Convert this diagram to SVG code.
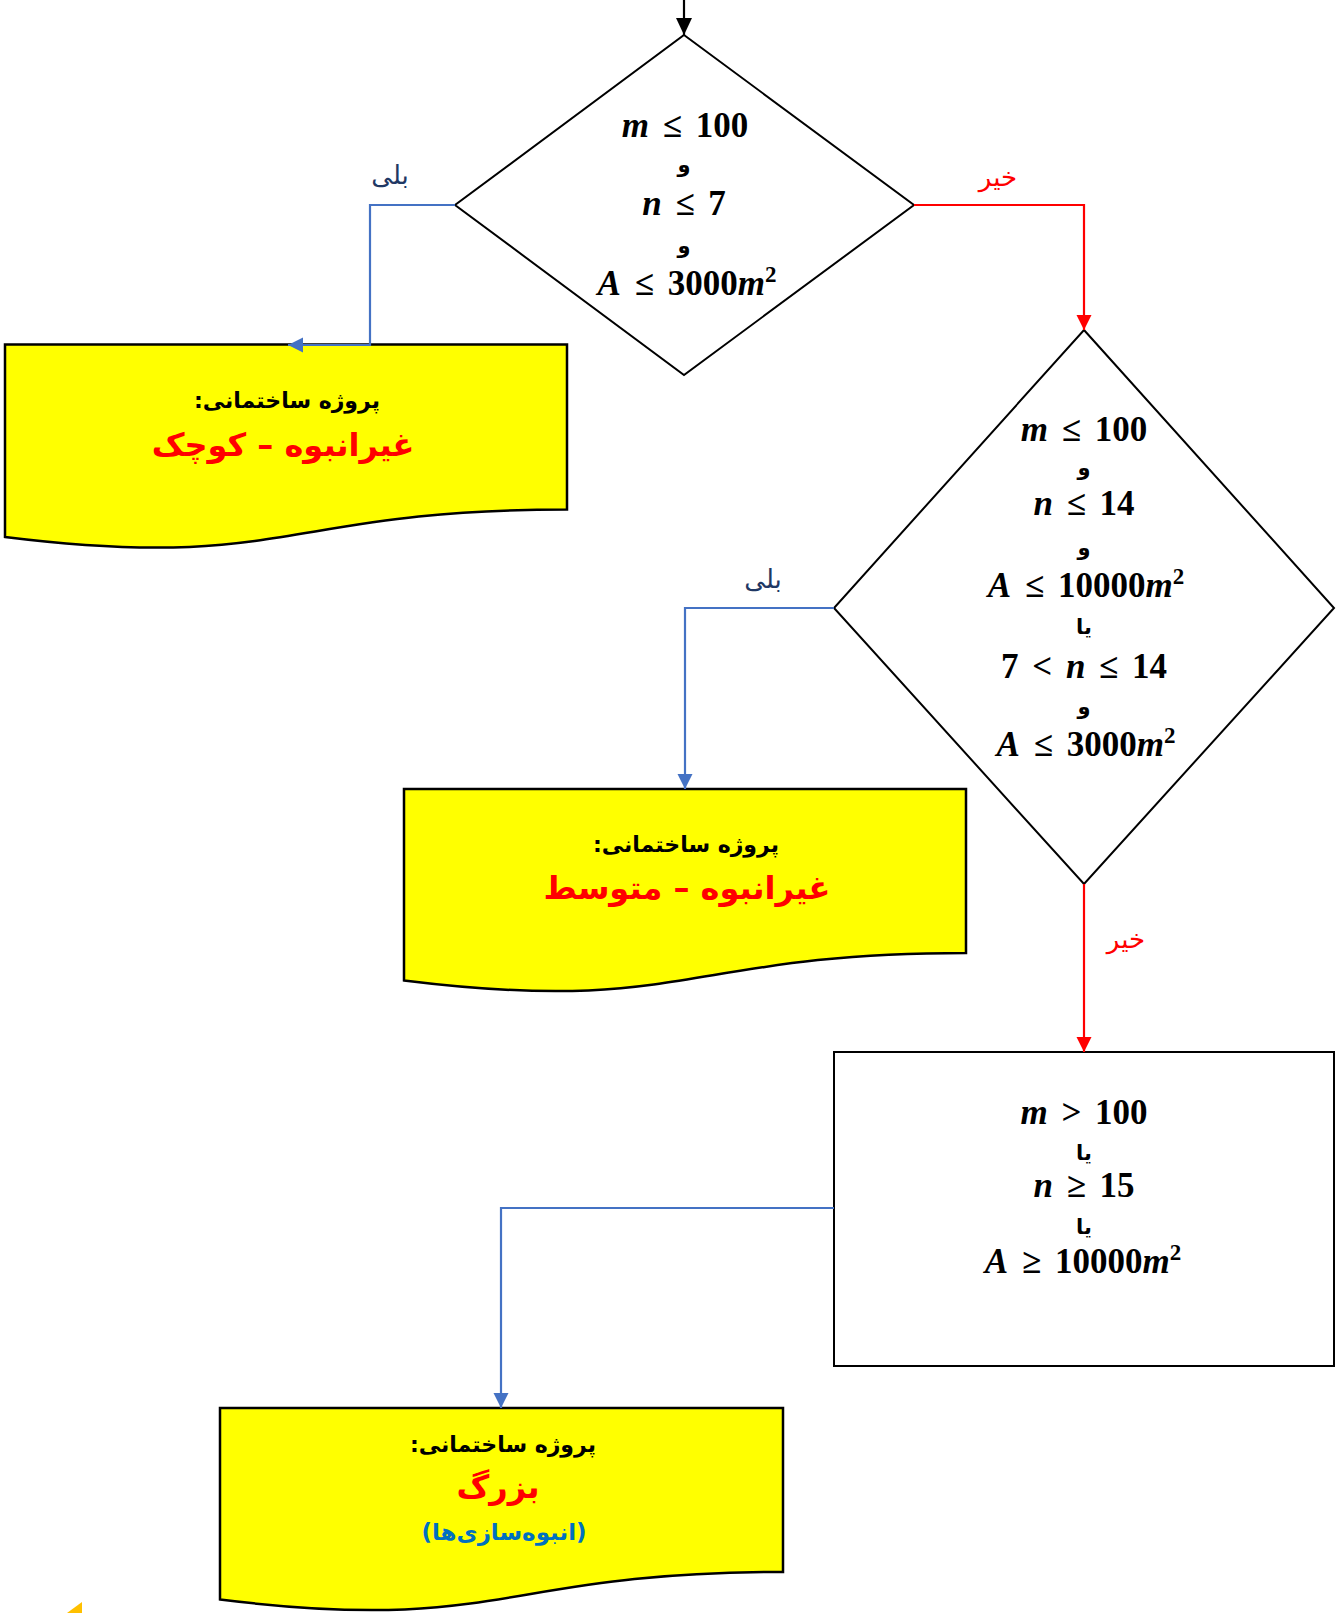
<svg xmlns="http://www.w3.org/2000/svg" width="1340" height="1613" viewBox="0 0 1340 1613">
<style>
.shape{fill:#fff;stroke:#000;stroke-width:2}
.doc{fill:#ffff00;stroke:#000;stroke-width:2.5}
.math{font-family:"Liberation Serif","Times New Roman",serif;font-weight:bold;font-size:35px;fill:#000;text-anchor:middle;word-spacing:5px}
.mi{font-style:italic}
.sup{font-size:23px}
.conj{font-family:"DejaVu Sans",sans-serif;font-weight:bold;font-size:21px;fill:#000;text-anchor:middle;direction:rtl}
.fa{font-family:"DejaVu Sans",sans-serif;text-anchor:middle;direction:rtl}
.title{font-weight:bold;font-size:22px;fill:#000}
.red{font-weight:bold;font-size:32px;fill:#ff0000}
.blueT{font-weight:bold;font-size:23px;fill:#0070c0}
.yes{font-size:26px;fill:#1f3864}
.no{font-size:26px;fill:#ff0000}
.cb{fill:none;stroke:#4472c4;stroke-width:2.2}
.cr{fill:none;stroke:#ff0000;stroke-width:2.2}
.ck{fill:none;stroke:#000;stroke-width:2.2}
</style>
<defs>
<marker id="ab" markerUnits="userSpaceOnUse" markerWidth="16" markerHeight="16" refX="15" refY="7.5" orient="auto"><path d="M0,0 L15,7.5 L0,15 z" fill="#4472c4"/></marker>
<marker id="ar" markerUnits="userSpaceOnUse" markerWidth="16" markerHeight="16" refX="15" refY="7.5" orient="auto"><path d="M0,0 L15,7.5 L0,15 z" fill="#ff0000"/></marker>
<marker id="ak" markerUnits="userSpaceOnUse" markerWidth="18" markerHeight="18" refX="17" refY="8" orient="auto"><path d="M0,0 L17,8 L0,16 z" fill="#000"/></marker>
</defs>

<g id="decision1">
<polygon class="shape" points="684,35 914,205 684,375 455,205"/>
<text class="math" x="685" y="137"><tspan class="mi">m</tspan> ≤ 100</text>
<text class="conj" x="684" y="172">و</text>
<text class="math" x="684" y="215"><tspan class="mi">n</tspan> ≤ 7</text>
<text class="conj" x="684" y="253">و</text>
<text class="math" x="687" y="295"><tspan class="mi">A</tspan> ≤ 3000<tspan class="mi">m</tspan><tspan class="sup" dy="-13">2</tspan></text>
</g>

<g id="doc-small">
<path class="doc" d="M5,344.5 H567 V509.5 C286,509.5 286,572 5,537 Z"/>
<text class="fa title" x="287" y="408">پروژه ساختمانی:</text>
<text class="fa red" x="283" y="456">غیرانبوه – کوچک</text>
</g>

<g id="decision2">
<polygon class="shape" points="1084,330 1334,608 1084,884 834,608"/>
<text class="math" x="1084" y="441"><tspan class="mi">m</tspan> ≤ 100</text>
<text class="conj" x="1084" y="475">و</text>
<text class="math" x="1084" y="515"><tspan class="mi">n</tspan> ≤ 14</text>
<text class="conj" x="1084" y="555">و</text>
<text class="math" x="1086" y="597"><tspan class="mi">A</tspan> ≤ 10000<tspan class="mi">m</tspan><tspan class="sup" dy="-13">2</tspan></text>
<text class="conj" x="1084" y="634">یا</text>
<text class="math" x="1084" y="678">7 &lt; <tspan class="mi">n</tspan> ≤ 14</text>
<text class="conj" x="1084" y="714">و</text>
<text class="math" x="1086" y="756"><tspan class="mi">A</tspan> ≤ 3000<tspan class="mi">m</tspan><tspan class="sup" dy="-13">2</tspan></text>
</g>

<g id="doc-medium">
<path class="doc" d="M404,789 H966 V953 C685,953 685,1015.5 404,980.5 Z"/>
<text class="fa title" x="686" y="852">پروژه ساختمانی:</text>
<text class="fa red" x="687" y="899">غیرانبوه – متوسط</text>
</g>

<g id="process">
<rect class="shape" x="834" y="1052" width="500" height="314"/>
<text class="math" x="1084" y="1124"><tspan class="mi">m</tspan> &gt; 100</text>
<text class="conj" x="1084" y="1160">یا</text>
<text class="math" x="1084" y="1197"><tspan class="mi">n</tspan> ≥ 15</text>
<text class="conj" x="1084" y="1234">یا</text>
<text class="math" x="1083" y="1273"><tspan class="mi">A</tspan> ≥ 10000<tspan class="mi">m</tspan><tspan class="sup" dy="-13">2</tspan></text>
</g>

<g id="doc-large">
<path class="doc" d="M220,1408 H783 V1572 C501.5,1572 501.5,1634.5 220,1599.5 Z"/>
<text class="fa title" x="503" y="1452">پروژه ساختمانی:</text>
<text class="fa red" x="498" y="1498">بزرگ</text>
<text class="fa blueT" x="504" y="1540">(انبوه‌سازی‌ها)</text>
</g>

<g id="connectors">
<path class="ck" d="M684,0 V35" marker-end="url(#ak)"/>
<path class="cb" d="M455,205 H370 V345 H288" marker-end="url(#ab)"/>
<path class="cr" d="M914,205 H1084 V330" marker-end="url(#ar)"/>
<path class="cb" d="M834,608 H685 V789" marker-end="url(#ab)"/>
<path class="cr" d="M1084,884 V1052" marker-end="url(#ar)"/>
<path class="cb" d="M834,1208 H501 V1408" marker-end="url(#ab)"/>
<text class="fa yes" x="390" y="184">بلی</text>
<text class="fa no" x="998" y="186">خیر</text>
<text class="fa yes" x="763" y="588">بلی</text>
<text class="fa no" x="1126" y="948">خیر</text>
</g>

<polygon points="82,1602 82,1613 67,1613" fill="#ffc000"/>
</svg>
